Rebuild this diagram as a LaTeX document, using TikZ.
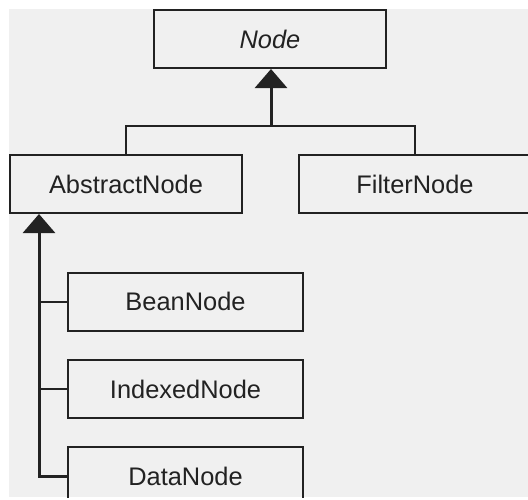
\documentclass[tikz,border=0pt]{standalone}
\usepackage{fontspec}
\setmainfont{Liberation Sans}
\usetikzlibrary{arrows.meta}
\definecolor{panel}{HTML}{F0F0F0}
\definecolor{ink}{HTML}{222222}
\tikzset{>=stealth,
	cls/.style={draw=ink, line width=1pt, minimum width=116pt, minimum height=29pt, inner sep=0pt, font=\fontsize{12.7}{15}\selectfont, text=ink},
	inherit/.style={draw=ink, line width=1.5pt, -{Triangle[width=16pt,length=9.5pt]}}}
\begin{document}
\begin{tikzpicture}[x=0.5pt,y=-0.5pt]
		\useasboundingbox (0,0) rectangle (528,499);
		\fill[panel] (9,9) rectangle (528,497);
		\clip (9,9) rectangle (528,497);
		\node[cls, font=\fontsize{12.7}{15}\selectfont\itshape] (node) at (270,39) {Node};
		\node[cls] (abstract) at (126,184) {AbstractNode};
		\node[cls] (filter) at (415,184) {FilterNode};
		\foreach \nm/\txt/\y in {bean/BeanNode/301.5, indexed/IndexedNode/389, data/DataNode/476}
		\node[cls, minimum width=117.5pt] (\nm) at (185.5,\y) {\txt};
		\coordinate (join) at (271,126);
		\draw[ink, line width=1pt] (abstract.north) |- (join) -| (filter.north);
		\draw[inherit] (join) -- (node.south -| join);
		\draw[inherit] (data.west) -| ([xshift=15pt]abstract.south west);
		\foreach \nm in {bean,indexed}
		\draw[ink, line width=1pt] (\nm.west) -- ++(-14pt,0);
	\end{tikzpicture}
\end{document}
